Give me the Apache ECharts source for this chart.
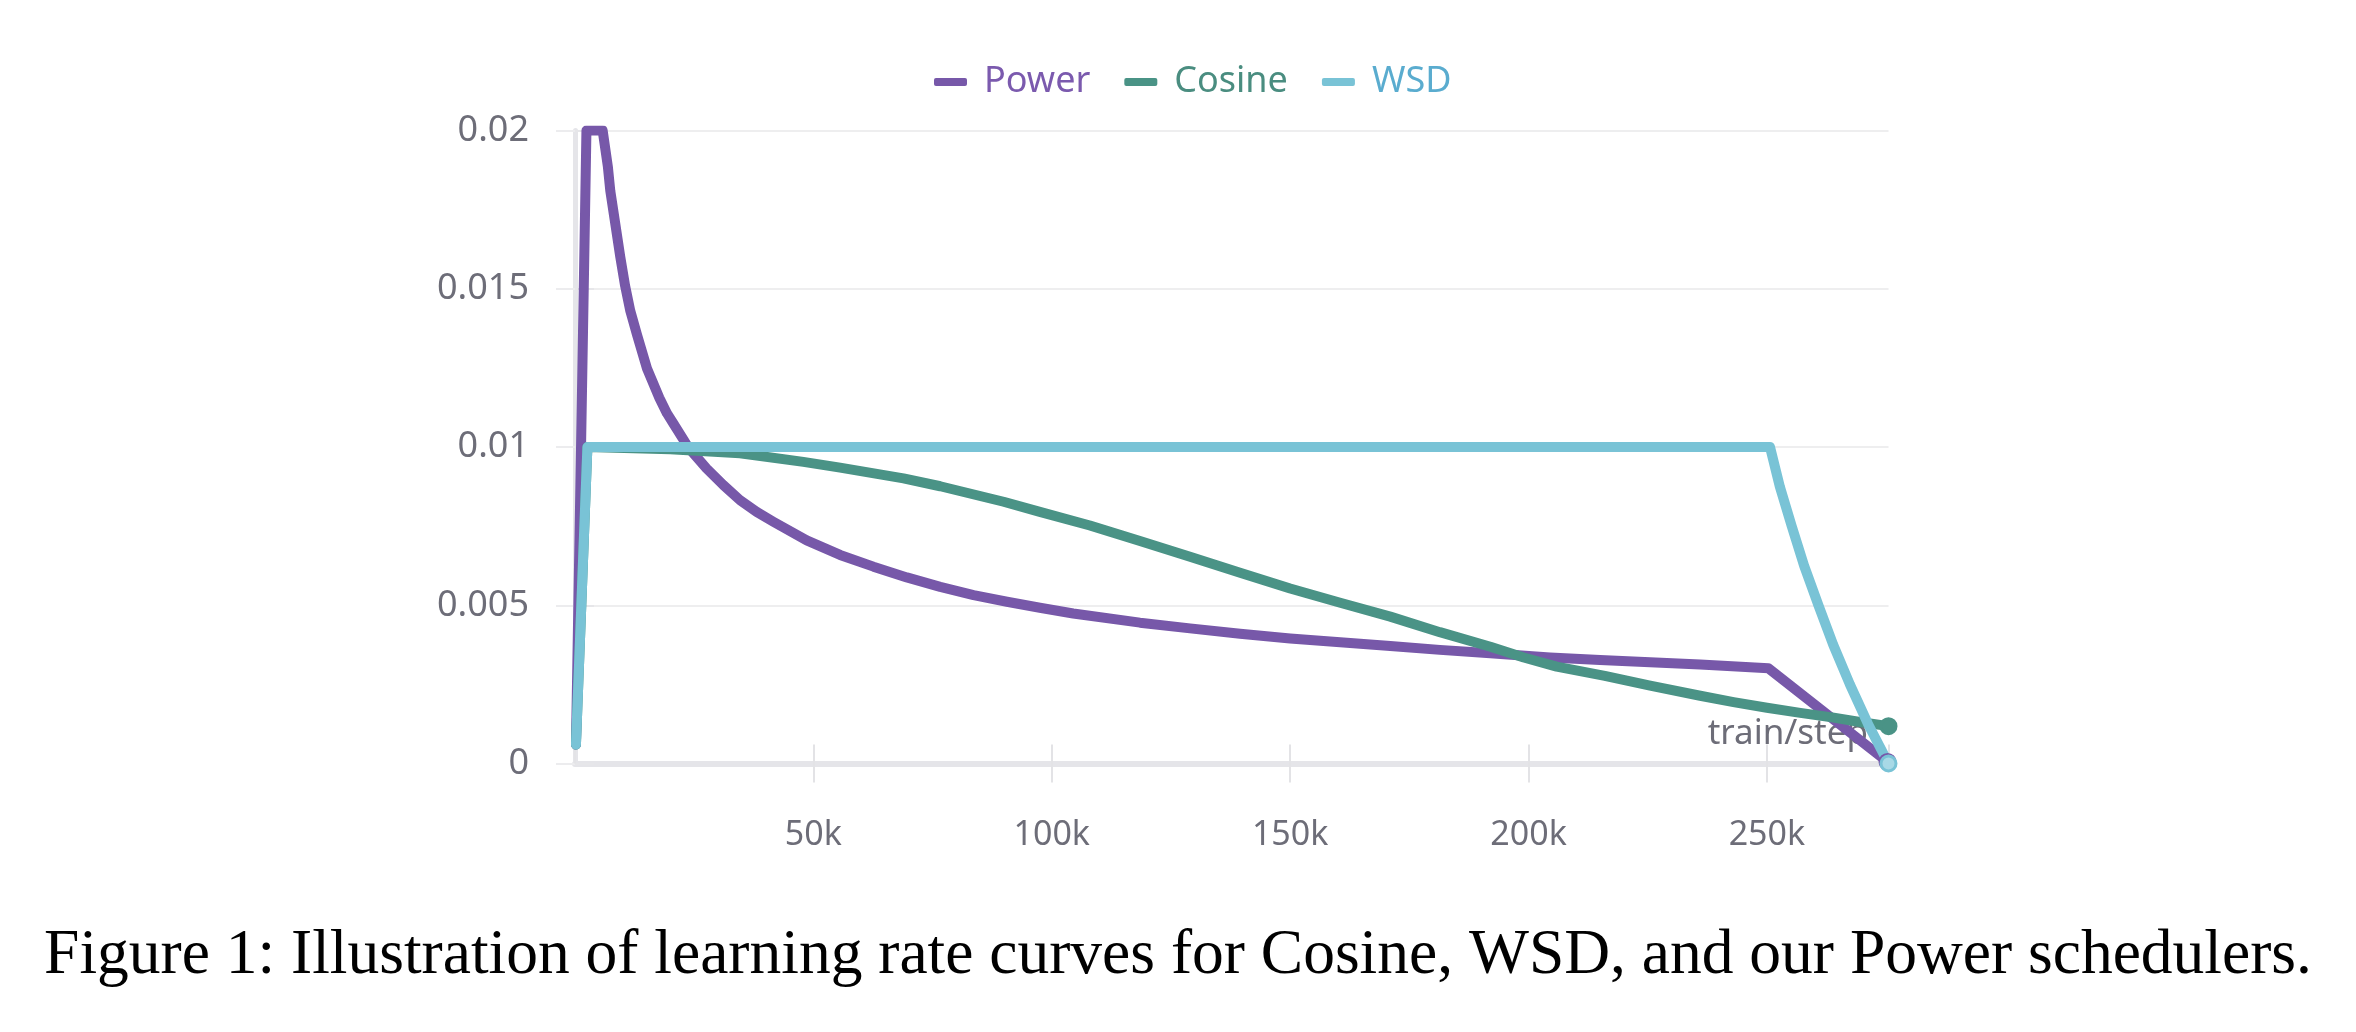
<!DOCTYPE html>
<html>
<head>
<meta charset="utf-8">
<script src="https://cdn.jsdelivr.net/npm/echarts@6/dist/echarts.min.js"></script>
<style>
  html, body { margin: 0; padding: 0; background: #ffffff; }
  #chart { width: 2356px; height: 1032px; }
</style>
</head>
<body>
<div id="chart"></div>
<script>
// ---- Data ----
const seriesNames = ['Power', 'Cosine', 'WSD'];

const powerSteps = [200, 2400, 5800, 6900, 7400, 8400, 9500, 10500, 11600, 13000, 15100, 17700, 19300, 20600, 23800, 27600, 31100, 34600, 38100, 41600, 48600, 55600, 62600, 69600, 76600, 83600, 90600, 97500, 104500, 118500, 129000, 139500, 150000, 160500, 171000, 181400, 192000, 204500, 215000, 225500, 236000, 250300, 275300];
const powerLR    = [0.0006, 0.02, 0.02, 0.01885, 0.0181, 0.0171, 0.016, 0.0151, 0.0143, 0.01355, 0.01248, 0.01155, 0.01106, 0.01075, 0.00998, 0.00932, 0.0088, 0.00832, 0.00795, 0.00764, 0.00705, 0.00659, 0.00622, 0.00588, 0.00558, 0.00532, 0.00511, 0.00492, 0.00474, 0.00445, 0.00427, 0.0041, 0.00395, 0.00383, 0.00371, 0.00359, 0.00348, 0.00335, 0.00327, 0.0032, 0.00313, 0.00301, 0.00005];

const cosineSteps = [200, 2600, 20000, 34600, 47900, 55600, 68900, 76600, 89900, 97500, 108000, 118500, 129000, 139500, 150000, 160500, 171000, 181400, 192000, 199000, 205900, 216000, 225500, 236000, 243000, 250000, 257000, 264000, 269500, 275500];
const cosineLR    = [0.0006, 0.01, 0.00993, 0.0098, 0.00953, 0.00935, 0.00901, 0.00876, 0.00827, 0.00795, 0.00752, 0.00703, 0.00653, 0.00603, 0.00553, 0.00508, 0.00464, 0.00415, 0.00369, 0.00335, 0.00306, 0.00277, 0.00246, 0.00214, 0.00194, 0.00176, 0.0016, 0.00145, 0.00131, 0.00118];

const wsdSteps = [200, 2600, 250650, 252700, 255200, 257800, 260800, 263900, 267400, 271200, 275500];
const wsdLR    = [0.0006, 0.01, 0.01, 0.00875, 0.0075, 0.00625, 0.005, 0.00375, 0.0025, 0.00125, 0];

const xTickInterval = 50000;
const xMax = 275500;
const yTicks = [0, 0.005, 0.01, 0.015, 0.02];
const xAxisName = 'train/step';
const captionText = 'Figure 1: Illustration of learning rate curves for Cosine, WSD, and our Power schedulers.';

// ---- Styles ----
const lineColors = ['#7758a9', '#4a9386', '#79c3d6'];
const legendTextColors = ['#7b5aae', '#4a8d80', '#5aaccf'];
const axisTextColor = '#6d6d78';
const font = 'Noto Sans';

function pairs(xs, ys) { return xs.map((x, i) => [x, ys[i]]); }

function makeSeries(name, xs, ys, color, endFill) {
  const n = xs.length;
  return {
    name: name,
    type: 'line',
    data: pairs(xs, ys),
    xAxisIndex: 0,
    yAxisIndex: 0,
    showSymbol: true,
    symbol: function (value, params) { return params.dataIndex === n - 1 ? 'circle' : 'none'; },
    symbolSize: 15,
    itemStyle: { color: endFill, borderColor: color, borderWidth: 3 },
    lineStyle: { color: color, width: 10, cap: 'round', join: 'round' },
    emphasis: { disabled: true },
    clip: true,
    z: 2
  };
}

const chart = echarts.init(document.getElementById('chart'), null, { renderer: 'canvas' });

const option = {
  animation: false,
  backgroundColor: '#ffffff',
  title: [
    {
      text: captionText,
      left: 'center',
      top: 919,
      textStyle: { fontFamily: 'Liberation Serif', fontSize: 63.5, fontWeight: 'normal', color: '#000000' }
    },
    {
      text: xAxisName,
      right: 488,
      top: 713,
      z: 0,
      padding: 0,
      textStyle: { fontFamily: font, fontSize: 35, fontWeight: 'normal', color: axisTextColor, lineHeight: 42 }
    }
  ],
  legend: {
    left: 929,
    top: 59,
    icon: 'roundRect',
    itemWidth: 33,
    itemHeight: 8,
    itemGap: 34,
    selectedMode: false,
    data: seriesNames.map((nm, i) => ({
      name: nm,
      textStyle: { color: legendTextColors[i] },
      itemStyle: { color: lineColors[i], borderWidth: 0 }
    })),
    textStyle: { fontFamily: font, fontSize: 36, padding: [0, 0, 0, 12] }
  },
  grid: { left: 575, right: 467.5, top: 130.5, bottom: 268.5, containLabel: false },
  xAxis: [
    {
      type: 'value', position: 'bottom', min: 0, max: xMax, interval: xTickInterval,
      axisLine: { show: true, lineStyle: { color: '#e5e5e9', width: 6 } },
      axisTick: { show: true, inside: false, length: 19, lineStyle: { color: '#e3e3e6', width: 2 } },
      axisLabel: {
        show: true, margin: 55, showMinLabel: false, showMaxLabel: false,
        fontFamily: font, fontSize: 34, color: axisTextColor,
        formatter: v => (v === 0 ? '' : (v / 1000) + 'k')
      },
      splitLine: { show: false }
    },
    {
      type: 'value', position: 'bottom', min: 0, max: xMax, interval: xTickInterval,
      axisLine: { show: false },
      axisTick: { show: true, inside: true, length: 19, lineStyle: { color: '#e3e3e6', width: 2 } },
      axisLabel: { show: false },
      splitLine: { show: false }
    }
  ],
  yAxis: [
    {
      type: 'value', position: 'left', min: yTicks[0], max: yTicks[yTicks.length - 1], interval: yTicks[1] - yTicks[0],
      axisLine: { show: true, lineStyle: { color: '#e5e5e9', width: 5 } },
      axisTick: { show: true, inside: false, length: 19, lineStyle: { color: '#ececee', width: 2 } },
      axisLabel: { show: true, margin: 46, fontFamily: font, fontSize: 36, color: axisTextColor },
      splitLine: { show: true, lineStyle: { color: '#eeeeef', width: 2 } }
    },
    {
      type: 'value', position: 'left', min: yTicks[0], max: yTicks[yTicks.length - 1], interval: yTicks[1] - yTicks[0],
      axisLine: { show: false },
      axisTick: { show: true, inside: true, length: 19, lineStyle: { color: '#e6e6e9', width: 2 } },
      axisLabel: { show: false },
      splitLine: { show: false }
    }
  ],
  series: [
    makeSeries(seriesNames[0], powerSteps, powerLR, lineColors[0], lineColors[0]),
    makeSeries(seriesNames[1], cosineSteps, cosineLR, lineColors[1], lineColors[1]),
    makeSeries(seriesNames[2], wsdSteps, wsdLR, lineColors[2], '#a8d9e6')
  ]
};

chart.setOption(option);
</script>
</body>
</html>
